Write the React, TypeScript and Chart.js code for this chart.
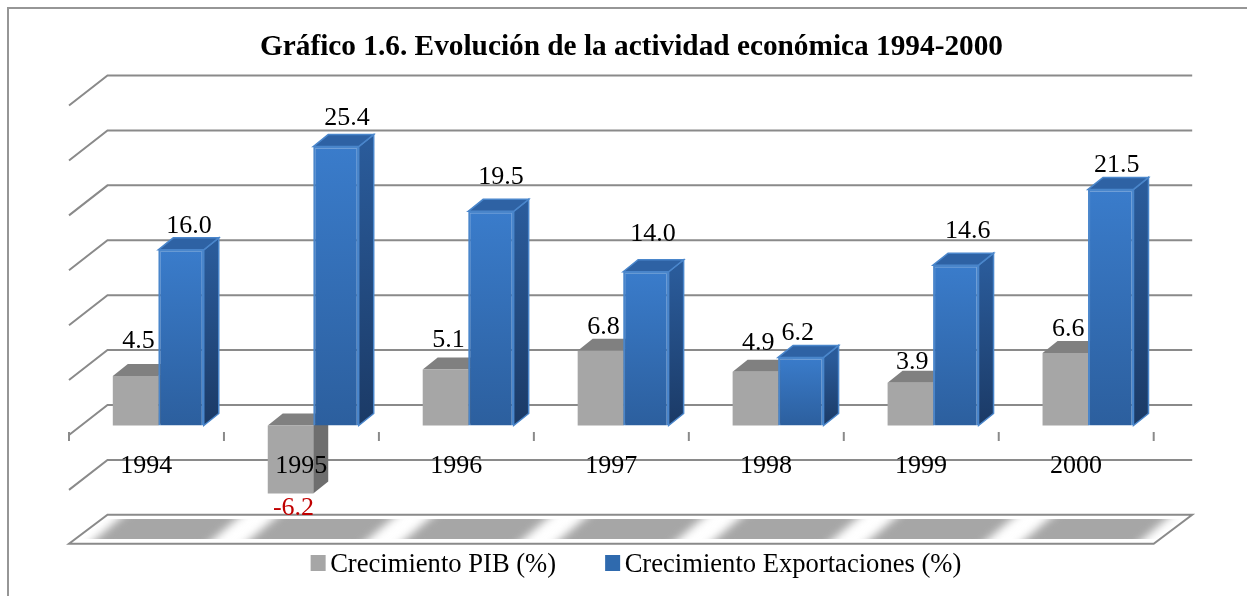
import React, { useEffect, useRef } from "react";
import { Chart, registerables } from "chart.js";

Chart.register(...registerables);

const years = ["1994", "1995", "1996", "1997", "1998", "1999", "2000"];
const pibGrowth = [4.5, -6.2, 5.1, 6.8, 4.9, 3.9, 6.6];
const exportGrowth = [16.0, 25.4, 19.5, 14.0, 6.2, 14.6, 21.5];
const pibLabelNudge = [[3, -35], [3, 15], [3, -29], [3, -24], [3, -29], [2, -20], [3, -24]];
const exportLabelNudge = [[8, -24], [11, -28], [10, -34], [7, -38], [-3, -24], [12, -34], [6, -24]];

const SERIF = "'Liberation Serif', 'Times New Roman', serif";
const GRID = "#8a8a8a";
const BACK = { dx: 26.7, dy: -20.5 };
const FRONT = { dx: -11.8, dy: 9.5 };
const DEPTH = { dx: 15, dy: -12 };
const PIB_COLOR = "#a6a6a6";
const EXPORT_COLOR = "#2f6aae";

function poly(ctx: CanvasRenderingContext2D, pts: number[][]) {
  ctx.beginPath();
  pts.forEach((p, i) => (i ? ctx.lineTo(p[0], p[1]) : ctx.moveTo(p[0], p[1])));
  ctx.closePath();
}

const scenePlugin = {
  id: "scene3d",
  beforeDatasetsDraw(chart: any) {
    const { ctx, chartArea: a, scales } = chart;
    const y = scales.y;
    const x = scales.x;
    const cat = (a.right - a.left) / years.length;
    ctx.save();

    // side wall + back wall grid lines
    ctx.strokeStyle = GRID;
    ctx.lineWidth = 2;
    ctx.lineJoin = "miter";
    y.ticks.forEach((t: any) => {
      if (t.value === y.min) return;
      const py = y.getPixelForValue(t.value);
      ctx.beginPath();
      ctx.moveTo(a.left + FRONT.dx, py + FRONT.dy);
      ctx.lineTo(a.left + BACK.dx, py + BACK.dy);
      ctx.lineTo(a.right + BACK.dx, py + BACK.dy);
      ctx.stroke();
    });

    // floor
    const fy = y.getPixelForValue(y.min);
    const floor = [
      [a.left + FRONT.dx, fy + FRONT.dy - 1],
      [a.right + FRONT.dx, fy + FRONT.dy - 1],
      [a.right + BACK.dx, fy + BACK.dy],
      [a.left + BACK.dx, fy + BACK.dy],
    ];
    poly(ctx, floor);
    ctx.fillStyle = "#ffffff";
    ctx.fill();
    ctx.save();
    ctx.beginPath();
    ctx.rect(a.left - 40, fy - 16.3, a.right - a.left + 120, 20);
    ctx.clip();
    ctx.filter = "blur(4.5px)";
    ctx.fillStyle = PIB_COLOR;
    years.forEach((_, i) => {
      const cx = x.getPixelForValue(i);
      const half = cat * 0.38;
      poly(ctx, [
        [cx - half - 15.5, fy + 13.7],
        [cx + half - 15.5, fy + 13.7],
        [cx + half + 31.5, fy - 26.3],
        [cx - half + 31.5, fy - 26.3],
      ]);
      ctx.fill();
    });
    ctx.restore();
    poly(ctx, floor);
    ctx.stroke();

    // axis ticks on the front edge
    const y0 = y.getPixelForValue(0);
    ctx.lineWidth = 2;
    for (let i = 0; i <= years.length; i++) {
      const tx = a.left + FRONT.dx + i * cat;
      ctx.beginPath();
      ctx.moveTo(tx, y0 + 6.5);
      ctx.lineTo(tx, y0 + 15.5);
      ctx.stroke();
    }

    // bar depth faces
    const faces = [
      { idx: 0, top: "#808080", stroke: null as string | null, a: "#6e6e6e", b: "#6e6e6e" },
      { idx: 1, top: "#2e62a4", stroke: "#4a86cb", a: "#2a5b9a", b: "#1b3a66" },
    ];
    faces.forEach((f) => {
      chart.getDatasetMeta(f.idx).data.forEach((el: any) => {
        const p = el.getProps(["x", "y", "base", "width"], true);
        const r = p.x + p.width / 2;
        const l = p.x - p.width / 2;
        const t = Math.min(p.y, p.base);
        const b = Math.max(p.y, p.base);
        const grad = ctx.createLinearGradient(0, t, 0, b);
        grad.addColorStop(0, f.a);
        grad.addColorStop(1, f.b);
        const sidePts = [
          [r, t],
          [r + DEPTH.dx, t + DEPTH.dy],
          [r + DEPTH.dx, b + DEPTH.dy],
          [r, b],
        ];
        const topPts = [
          [l, t],
          [l + DEPTH.dx, t + DEPTH.dy],
          [r + DEPTH.dx, t + DEPTH.dy],
          [r, t],
        ];
        poly(ctx, sidePts);
        ctx.fillStyle = grad;
        ctx.fill();
        if (f.stroke) {
          ctx.strokeStyle = f.stroke;
          ctx.lineWidth = 1.5;
          ctx.stroke();
        }
        poly(ctx, topPts);
        ctx.fillStyle = f.top;
        ctx.fill();
        if (f.stroke) ctx.stroke();
      });
    });
    ctx.restore();
  },
  afterDatasetsDraw(chart: any) {
    const { ctx } = chart;
    ctx.save();
    ctx.font = `26px ${SERIF}`;
    ctx.textAlign = "center";
    ctx.textBaseline = "middle";
    [
      { idx: 0, vals: pibGrowth, nudge: pibLabelNudge },
      { idx: 1, vals: exportGrowth, nudge: exportLabelNudge },
    ].forEach((s) => {
      chart.getDatasetMeta(s.idx).data.forEach((el: any, i: number) => {
        const p = el.getProps(["x", "y", "base"], true);
        const v = s.vals[i];
        ctx.fillStyle = v < 0 ? "#c00000" : "#000000";
        ctx.fillText(v.toFixed(1), p.x + s.nudge[i][0], p.y + s.nudge[i][1]);
      });
    });

    // legend
    const ds = chart.data.datasets;
    const colors = [PIB_COLOR, EXPORT_COLOR];
    ctx.font = `26.6px ${SERIF}`;
    ctx.textAlign = "left";
    const box = 15;
    const gap = 4.5;
    const between = 49;
    const widths = ds.map((d: any) => ctx.measureText(d.label).width);
    const total = widths[0] + widths[1] + 2 * (box + gap) + between;
    let lx = chart.width / 2 + 4.5 - total / 2;
    const ly = 555;
    ds.forEach((d: any, i: number) => {
      ctx.fillStyle = colors[i];
      ctx.fillRect(lx, ly - 8, box, 16);
      ctx.fillStyle = "#000000";
      ctx.fillText(d.label, lx + box + gap, ly + 2);
      lx += box + gap + widths[i] + between;
    });
    ctx.restore();
  },
};

function blueGradient(c: any) {
  const y = c.chart.scales.y;
  if (c.dataIndex === undefined || !y) return EXPORT_COLOR;
  const y1 = y.getPixelForValue(exportGrowth[c.dataIndex]);
  const y2 = y.getPixelForValue(0);
  if (!Number.isFinite(y1) || !Number.isFinite(y2)) return EXPORT_COLOR;
  const g = c.chart.ctx.createLinearGradient(0, y1, 0, y2);
  g.addColorStop(0, "#3a7ccb");
  g.addColorStop(1, "#2c5f9e");
  return g;
}

export default function App() {
  const ref = useRef<HTMLCanvasElement>(null);
  useEffect(() => {
    const chart = new Chart(ref.current!, {
      type: "bar",
      data: {
        labels: years,
        datasets: [
          {
            label: "Crecimiento PIB (%)",
            data: pibGrowth,
            backgroundColor: PIB_COLOR,
            borderWidth: 0,
          },
          {
            label: "Crecimiento Exportaciones (%)",
            data: exportGrowth,
            backgroundColor: blueGradient,
            borderColor: "#4a86cb",
            borderWidth: 2,
          },
        ],
      } as any,
      options: {
        animation: false,
        responsive: false,
        devicePixelRatio: 1,
        categoryPercentage: 0.587,
        barPercentage: 1,
        layout: { padding: { left: 72.8, right: 72.8, top: 0, bottom: 60.7 } },
        plugins: {
          title: {
            display: true,
            text: "Gráfico 1.6. Evolución de la actividad económica 1994-2000",
            color: "#000000",
            font: { family: SERIF, size: 29.3, weight: "bold" },
            padding: { top: 21.5, bottom: 31.4 },
          },
          legend: { display: false },
          tooltip: { enabled: false },
        },
        scales: {
          x: {
            position: { y: 0 },
            grid: { display: false, drawTicks: false },
            border: { display: false },
            ticks: {
              z: 1,
              color: "#000000",
              font: { family: SERIF, size: 26 },
              padding: 25.5,
              labelOffset: -12,
              autoSkip: false,
              maxRotation: 0,
            },
          },
          y: {
            position: "right",
            min: -10,
            max: 30,
            grid: { display: false },
            border: { display: false },
            ticks: { display: false, stepSize: 5 },
            afterFit: (s: any) => {
              s.width = 16.7;
            },
          },
        },
      } as any,
      plugins: [scenePlugin],
    });
    return () => chart.destroy();
  }, []);

  return (
    <div style={{ position: "fixed", left: 0, top: 0, width: 1247, height: 596, overflow: "hidden", background: "#fff" }}>
      <div style={{ position: "absolute", left: 7, top: 7, width: 1240, height: 589, borderLeft: "2px solid #969696", borderTop: "2px solid #969696", boxSizing: "border-box" }} />
      <canvas ref={ref} width={1247} height={588} style={{ position: "absolute", left: 8, top: 8, width: 1247, height: 588, display: "block" }} />
    </div>
  );
}
